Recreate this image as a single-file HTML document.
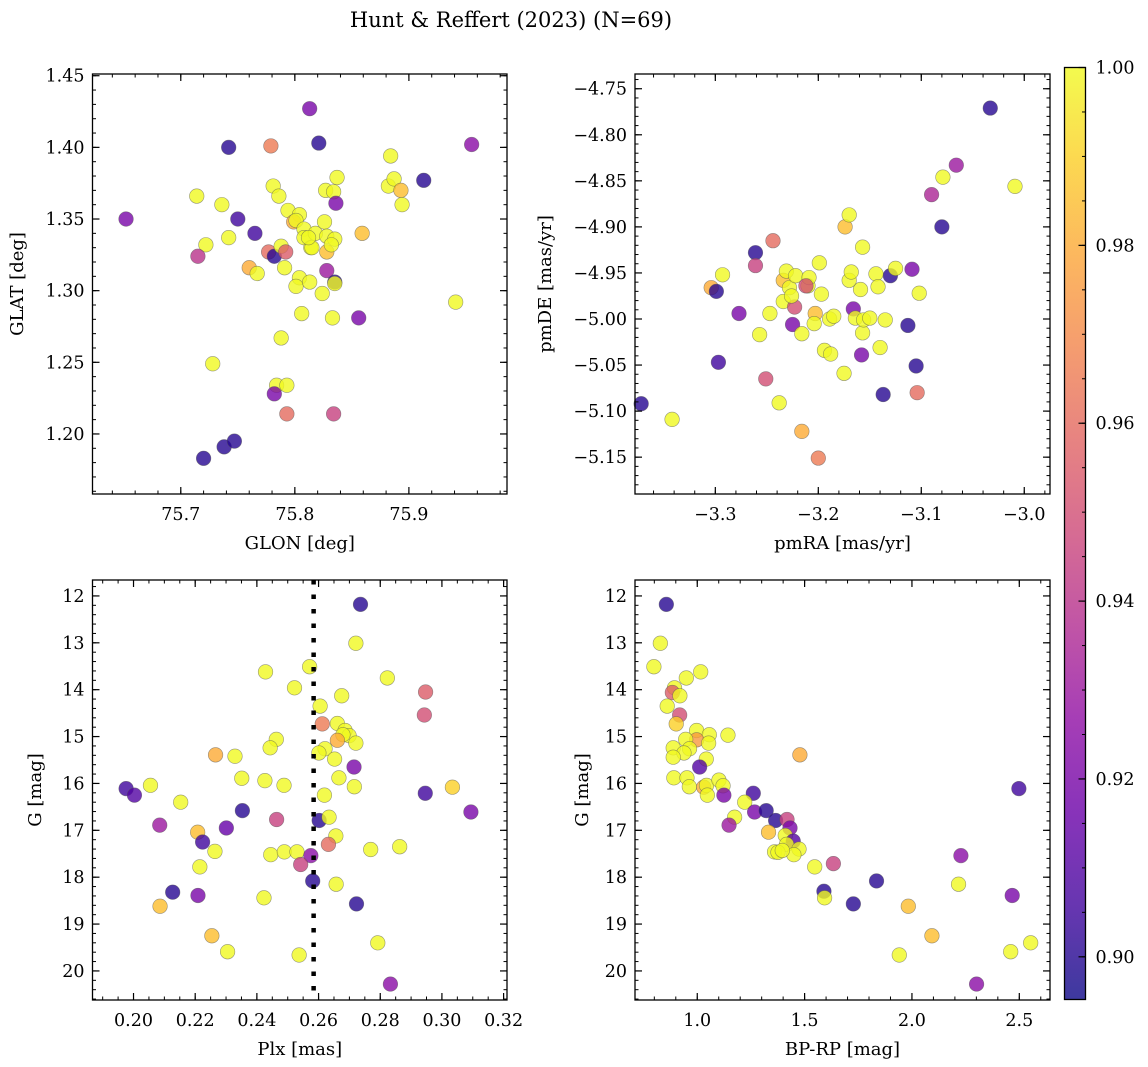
<!DOCTYPE html>
<html><head><meta charset="utf-8">
<style>
html,body{margin:0;padding:0;background:#fff;}
svg{display:block;font-family:"DejaVu Serif","Liberation Serif",serif;}
</style></head>
<body>
<svg id="fig" width="1148" height="1067" viewBox="0 0 1148 1067" xmlns="http://www.w3.org/2000/svg">
<defs>
<linearGradient id="plasmaGrad" x1="0" y1="1" x2="0" y2="0">
<stop offset="0" stop-color="#0d0887"/><stop offset="0.1" stop-color="#41049d"/><stop offset="0.2" stop-color="#6a00a8"/><stop offset="0.3" stop-color="#8f0da4"/><stop offset="0.4" stop-color="#b12a90"/><stop offset="0.5" stop-color="#cc4778"/><stop offset="0.6" stop-color="#e16462"/><stop offset="0.7" stop-color="#f2844b"/><stop offset="0.8" stop-color="#fca636"/><stop offset="0.9" stop-color="#fcce25"/><stop offset="1" stop-color="#f0f921"/>
</linearGradient>
</defs>
<text x="511" y="27" font-size="21" text-anchor="middle">Hunt &amp; Reffert (2023) (N=69)</text>
</svg>
<script>
// ---------- data: panel 1 (GLON vs GLAT) ----------
const glon = [75.652,75.714,75.736,75.742,75.750,75.765,75.722,75.742,75.715,75.779,75.781,75.786,75.794,75.804,75.799,75.801,75.777,75.782,75.788,75.792,75.760,75.767,75.791,75.804,75.801,75.813,75.824,75.806,75.833,75.856,75.828,75.835,75.835,75.813,75.821,75.808,75.808,75.818,75.814,75.815,75.826,75.827,75.834,75.837,75.836,75.828,75.835,75.828,75.832,75.859,75.884,75.882,75.887,75.893,75.894,75.913,75.955,75.941,75.788,75.728,75.784,75.793,75.782,75.793,75.834,75.720,75.738,75.747,75.812];
const glat = [1.350,1.366,1.360,1.400,1.350,1.340,1.332,1.337,1.324,1.401,1.373,1.366,1.356,1.353,1.348,1.349,1.327,1.324,1.331,1.327,1.316,1.312,1.316,1.309,1.303,1.306,1.298,1.284,1.281,1.281,1.314,1.306,1.305,1.427,1.403,1.343,1.337,1.340,1.330,1.330,1.348,1.370,1.369,1.379,1.361,1.338,1.336,1.327,1.332,1.340,1.394,1.373,1.378,1.370,1.360,1.377,1.402,1.292,1.267,1.249,1.234,1.234,1.228,1.214,1.214,1.183,1.191,1.195,1.337];
const prob1 = [0.92,1,1,0.90,0.905,0.905,1,1,0.94,0.965,1,1,1,1,0.98,1,0.96,0.90,1,0.955,0.98,1,1,1,1,1,1,1,1,0.92,0.93,0.90,1,0.92,0.90,1,1,1,1,1,1,1,1,1,0.92,1,1,0.985,1,0.985,1,1,1,0.985,1,0.90,0.925,1,1,1,1,1,0.92,0.96,0.945,0.90,0.90,0.90,1];
// ---------- data: panel 2 (pmRA vs pmDE) ----------
const pmra = [-3.372,-3.342,-3.304,-3.299,-3.297,-3.293,-3.277,-3.261,-3.261,-3.257,-3.251,-3.244,-3.247,-3.238,-3.234,-3.234,-3.231,-3.228,-3.225,-3.223,-3.226,-3.222,-3.216,-3.210,-3.209,-3.212,-3.216,-3.203,-3.204,-3.200,-3.199,-3.197,-3.194,-3.189,-3.188,-3.185,-3.175,-3.174,-3.170,-3.170,-3.166,-3.168,-3.164,-3.159,-3.158,-3.157,-3.157,-3.156,-3.150,-3.144,-3.142,-3.140,-3.137,-3.135,-3.130,-3.125,-3.109,-3.113,-3.105,-3.104,-3.102,-3.090,-3.080,-3.079,-3.066,-3.033,-3.009];
const pmde = [-5.092,-5.109,-4.966,-4.970,-5.047,-4.952,-4.994,-4.928,-4.942,-5.017,-5.065,-4.915,-4.994,-5.091,-4.958,-4.981,-4.948,-4.966,-5.006,-4.987,-4.975,-4.953,-5.016,-4.964,-4.955,-4.964,-5.122,-4.994,-5.005,-5.151,-4.939,-4.973,-5.034,-5.000,-5.038,-4.997,-5.059,-4.900,-4.887,-4.958,-4.989,-4.949,-4.999,-4.968,-5.039,-5.015,-4.922,-5.001,-4.999,-4.951,-4.965,-5.031,-5.082,-5.001,-4.953,-4.945,-4.946,-5.007,-5.051,-5.080,-4.972,-4.865,-4.900,-4.846,-4.833,-4.771,-4.856];
const prob2 = [0.90,1,0.98,0.90,0.905,1,0.92,0.90,0.945,1,0.95,0.96,1,1,0.985,1,1,1,0.92,0.95,1,1,1,1,1,0.95,0.98,0.985,1,0.965,1,1,1,1,1,1,1,0.985,1,1,0.92,1,1,1,0.92,1,1,1,1,1,1,1,0.90,1,0.90,1,0.92,0.90,0.90,0.96,1,0.935,0.90,1,0.93,0.90,1];
// ---------- data: panel 3 (Plx vs G) ----------
const plx = [0.2736,0.2721,0.2571,0.2428,0.2823,0.2522,0.2947,0.2675,0.2605,0.2943,0.2612,0.2661,0.2686,0.2699,0.2679,0.2661,0.2721,0.2463,0.2443,0.2621,0.2601,0.2266,0.2329,0.2652,0.2715,0.2351,0.2426,0.2488,0.2666,0.2716,0.3034,0.1976,0.2003,0.2055,0.2946,0.2619,0.2153,0.3094,0.2353,0.2464,0.2602,0.2634,0.2085,0.2301,0.2208,0.2224,0.2656,0.2632,0.2264,0.2445,0.2489,0.2530,0.2575,0.2542,0.2769,0.2863,0.2215,0.2581,0.2657,0.2127,0.2209,0.2423,0.2723,0.2086,0.2254,0.2792,0.2305,0.2537,0.2833];
const gmag3 = [12.18,13.01,13.51,13.62,13.75,13.96,14.05,14.13,14.35,14.54,14.73,14.72,14.87,14.98,14.96,15.08,15.14,15.06,15.24,15.26,15.35,15.39,15.42,15.48,15.65,15.89,15.94,16.04,15.88,16.07,16.08,16.11,16.25,16.04,16.21,16.25,16.40,16.61,16.58,16.77,16.79,16.72,16.89,16.95,17.04,17.25,17.12,17.30,17.45,17.52,17.46,17.46,17.54,17.73,17.41,17.35,17.78,18.08,18.15,18.32,18.39,18.44,18.57,18.62,19.25,19.40,19.59,19.66,20.28];
const prob3 = [0.90,1,1,1,1,1,0.955,1,1,0.95,0.965,1,1,1,1,0.98,1,1,1,1,1,0.98,1,1,0.92,1,1,1,1,1,0.99,0.905,0.91,1,0.905,1,1,0.92,0.90,0.945,0.90,1,0.93,0.915,0.985,0.905,1,0.96,1,1,1,1,0.925,0.945,1,1,1,0.90,1,0.90,0.92,1,0.90,0.985,0.985,1,1,1,0.925];
const plxMedian = [0.2584];
// ---------- data: panel 4 (BP-RP vs G) ----------
const bprp = [0.856,0.828,0.798,1.016,0.949,0.894,0.884,0.919,0.860,0.918,0.902,0.997,1.056,1.143,0.997,0.946,1.053,0.888,0.964,0.938,0.888,1.042,1.478,1.011,0.891,0.952,0.963,1.030,1.043,1.101,1.120,1.047,1.124,2.498,1.261,1.221,1.267,1.321,1.365,1.418,1.432,1.174,1.148,1.332,1.410,1.447,1.416,1.474,1.360,1.376,1.450,1.396,2.228,1.634,1.547,1.835,2.217,1.590,1.593,2.467,1.727,1.983,2.093,2.553,2.460,1.941,2.301];
const gmag4 = [12.18,13.01,13.51,13.62,13.75,13.96,14.06,14.13,14.35,14.54,14.73,14.87,14.96,14.97,15.07,15.06,15.14,15.24,15.26,15.35,15.44,15.48,15.39,15.65,15.88,15.88,16.07,16.08,16.04,15.93,16.05,16.25,16.25,16.11,16.21,16.40,16.61,16.58,16.79,16.77,16.95,16.72,16.89,17.04,17.11,17.23,17.30,17.40,17.46,17.47,17.52,17.43,17.54,17.71,17.78,18.08,18.15,18.30,18.44,18.39,18.57,18.62,19.25,19.40,19.59,19.66,20.28];
const prob4 = [0.90,1,1,1,1,1,0.955,1,1,0.95,0.99,1,1,1,0.975,1,1,1,1,1,1,1,0.98,0.91,1,1,1,0.98,1,1,1,1,0.92,0.905,0.905,1,0.92,0.90,0.90,0.945,0.92,1,0.93,0.985,1,0.91,1,1,1,1,1,1,0.925,0.945,1,0.90,1,0.90,1,0.92,0.90,0.985,0.985,1,1,1,0.925];
// ---------- colorbar ----------
const cbTicks = [0.90,0.92,0.94,0.96,0.98,1.00];
const cbMin = 0.8952, cbMax = 1.0;

const NS = "http://www.w3.org/2000/svg";
const svg = document.getElementById('fig');
function mk(tag, attrs, parent){
  const e = document.createElementNS(NS, tag);
  for (const k in attrs) e.setAttribute(k, attrs[k]);
  (parent||svg).appendChild(e);
  return e;
}
const stops = [[0,[13,8,135]],[0.1,[65,4,157]],[0.2,[106,0,168]],[0.3,[143,13,164]],[0.4,[177,42,144]],[0.5,[204,71,120]],[0.6,[225,100,98]],[0.7,[242,132,75]],[0.8,[252,166,54]],[0.9,[252,206,37]],[1,[240,249,33]]];
function plasma(t){
  t = Math.max(0, Math.min(1, t));
  for (let i=1;i<stops.length;i++){
    if (t <= stops[i][0]){
      const a = stops[i-1], b = stops[i];
      const f = (t-a[0])/(b[0]-a[0]);
      const c = a[1].map((v,j)=>Math.round(v+(b[1][j]-v)*f));
      return `rgb(${c[0]},${c[1]},${c[2]})`;
    }
  }
  return 'rgb(240,249,33)';
}
function fmt(v, d){ const s = v.toFixed(d); return v < 0 ? '\u2212' + s.slice(1) : s; }

function panel(cfg){
  const g = mk('g', {});
  
  
  const {L,T,W,H} = cfg;
  const sx = v => L + (v - cfg.xmin)/(cfg.xmax - cfg.xmin)*W;
  const sy = cfg.invert ? (v => T + (v - cfg.ymin)/(cfg.ymax - cfg.ymin)*H)
                        : (v => T + (cfg.ymax - v)/(cfg.ymax - cfg.ymin)*H);
  const pg = mk('g', {}, g);
  
  
  for (let i=0;i<cfg.xs.length;i++){
    const c = mk('circle', {cx: sx(cfg.xs[i]), cy: sy(cfg.ys[i]), r: 7.3,
      fill: plasma((cfg.ps[i]-cbMin)/(cbMax-cbMin)), 'fill-opacity': 0.8,
      stroke: '#555', 'stroke-opacity': 0.6, 'stroke-width': 0.6}, pg);
    
    
  }
  if (cfg.vline !== undefined){
    const ln = mk('line', {x1: sx(cfg.vline), x2: sx(cfg.vline), y1: T, y2: T+H, stroke: '#000', 'stroke-width': 4.5, 'stroke-dasharray': '4.5 10'}, g);
    
    
  }
  const fr = mk('rect', {x: L, y: T, width: W, height: H, fill: 'none', stroke: '#000', 'stroke-width': 1.3}, g);
  
  
  const eps = 1e-9;
  function ticks(min, max, step){ const out=[]; let v = Math.ceil((min-eps)/step)*step; for(; v<=max+eps; v+=step) out.push(+v.toFixed(6)); return out; }
  ticks(cfg.xmin, cfg.xmax, cfg.xminor).forEach(v=>{
    const x = sx(v);
    mk('line',{x1:x,x2:x,y1:T+H,y2:T+H-3.5,stroke:'#000','stroke-width':1},g);
    mk('line',{x1:x,x2:x,y1:T,y2:T+3.5,stroke:'#000','stroke-width':1},g);
  });
  ticks(cfg.ymin, cfg.ymax, cfg.yminor).forEach(v=>{
    const y = sy(v);
    mk('line',{x1:L,x2:L+3.5,y1:y,y2:y,stroke:'#000','stroke-width':1},g);
    mk('line',{x1:L+W,x2:L+W-3.5,y1:y,y2:y,stroke:'#000','stroke-width':1},g);
  });
  ticks(cfg.xmin, cfg.xmax, cfg.xmajor).forEach(v=>{
    const x = sx(v);
    mk('line',{x1:x,x2:x,y1:T+H,y2:T+H-7,stroke:'#000','stroke-width':1.2},g);
    mk('line',{x1:x,x2:x,y1:T,y2:T+7,stroke:'#000','stroke-width':1.2},g);
    const t = mk('text',{x:x,y:T+H+26,'font-size':17.5,'text-anchor':'middle'},g);
    t.textContent = fmt(v, cfg.xdec);
    
    
  });
  ticks(cfg.ymin, cfg.ymax, cfg.ymajor).forEach(v=>{
    const y = sy(v);
    mk('line',{x1:L,x2:L+7,y1:y,y2:y,stroke:'#000','stroke-width':1.2},g);
    mk('line',{x1:L+W,x2:L+W-7,y1:y,y2:y,stroke:'#000','stroke-width':1.2},g);
    const t = mk('text',{x:L-8,y:y+6,'font-size':17.5,'text-anchor':'end'},g);
    t.textContent = fmt(v, cfg.ydec);
    
    
  });
  const xl = mk('text',{x:L+W/2,y:T+H+55,'font-size':18,'text-anchor':'middle'},g);
  xl.textContent = cfg.xlabel;
  
  
  const yl = mk('text',{x:cfg.ylx,y:T+H/2,'font-size':18,'text-anchor':'middle',transform:`rotate(-90 ${cfg.ylx} ${T+H/2})`},g);
  yl.textContent = cfg.ylabel;
  
  
}

panel({name:'glon-glat-panel',L:92.5,T:74,W:414.5,H:420,xmin:75.6226,xmax:75.986,ymin:1.1581,ymax:1.4512,
  xs:glon,ys:glat,ps:prob1,xmajor:0.1,xminor:0.02,ymajor:0.05,yminor:0.01,xdec:1,ydec:2,xlabel:'GLON [deg]',ylabel:'GLAT [deg]',ylx:23});
panel({name:'pm-panel',L:635,T:74,W:415,H:420,xmin:-3.378,xmax:-2.975,ymin:-5.190,ymax:-4.734,
  xs:pmra,ys:pmde,ps:prob2,xmajor:0.1,xminor:0.02,ymajor:0.05,yminor:0.01,xdec:1,ydec:2,xlabel:'pmRA [mas/yr]',ylabel:'pmDE [mas/yr]',ylx:551});
panel({name:'plx-g-panel',L:92.5,T:580,W:414.5,H:420,xmin:0.1867,xmax:0.3211,ymin:11.66,ymax:20.62,invert:true,
  xs:plx,ys:gmag3,ps:prob3,vline:plxMedian[0],xmajor:0.02,xminor:0.005,ymajor:1,yminor:0.2,xdec:2,ydec:0,xlabel:'Plx [mas]',ylabel:'G [mag]',ylx:41});
panel({name:'cmd-panel',L:635,T:580,W:415,H:420,xmin:0.710,xmax:2.643,ymin:11.66,ymax:20.62,invert:true,
  xs:bprp,ys:gmag4,ps:prob4,xmajor:0.5,xminor:0.1,ymajor:1,yminor:0.2,xdec:1,ydec:0,xlabel:'BP-RP [mag]',ylabel:'G [mag]',ylx:588});

(function(){
  const L=1064.5,T=67.5,W=21,H=932;
  const g = mk('g',{});
  
  
  const r = mk('rect',{x:L,y:T,width:W,height:H,fill:'url(#plasmaGrad)','fill-opacity':0.8},g);
  
  
  mk('rect',{x:L,y:T,width:W,height:H,fill:'none',stroke:'#000','stroke-width':1.3},g);
  const sy = v => T + (cbMax - v)/(cbMax-cbMin)*H;
  for (let v=0.90; v<=1.0001; v+=0.005){
    const y = sy(v);
    mk('line',{x1:L+W,x2:L+W-3.5,y1:y,y2:y,stroke:'#000','stroke-width':1},g);
  }
  cbTicks.forEach(v=>{
    const y = sy(v);
    mk('line',{x1:L+W,x2:L+W-7,y1:y,y2:y,stroke:'#000','stroke-width':1.2},g);
    const t = mk('text',{x:L+W+10,y:y+6,'font-size':17.5},g);
    t.textContent = v.toFixed(2);
    
    
  });
})();
</script>
</body></html>
